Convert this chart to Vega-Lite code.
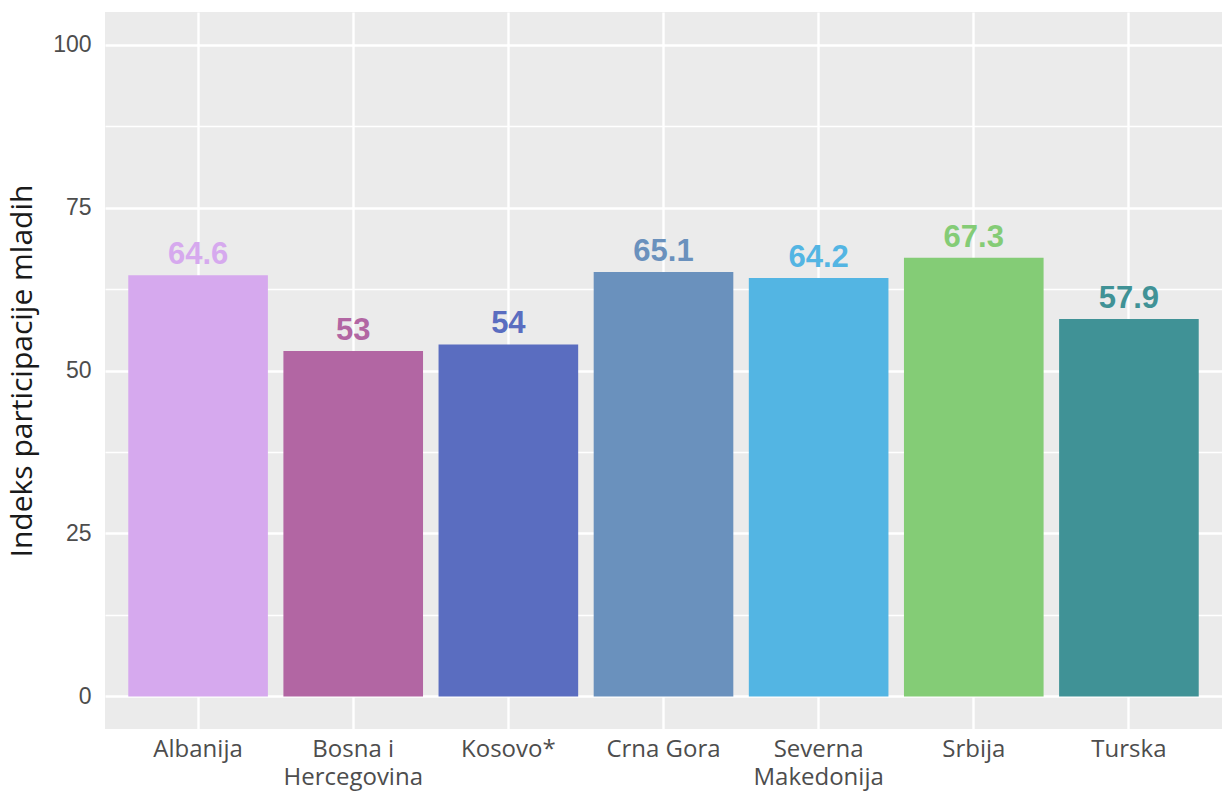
{
  "$schema": "https://vega.github.io/schema/vega-lite/v6.json",
  "width": 1117,
  "height": 717,
  "autosize": {"type": "none"},
  "padding": {"left": 105, "top": 12, "right": 2, "bottom": 73},
  "background": "white",
  "config": {
    "view": {"fill": "#EBEBEB", "stroke": null},
    "font": "Liberation Sans"
  },
  "data": {
    "values": [
      {"zemlja": "Albanija", "indeks": 64.6, "boja": "#D6A9EE"},
      {"zemlja": "Bosna i Hercegovina", "indeks": 53, "boja": "#B266A3"},
      {"zemlja": "Kosovo*", "indeks": 54, "boja": "#5A6DC0"},
      {"zemlja": "Crna Gora", "indeks": 65.1, "boja": "#6A91BD"},
      {"zemlja": "Severna Makedonija", "indeks": 64.2, "boja": "#53B5E3"},
      {"zemlja": "Srbija", "indeks": 67.3, "boja": "#84CC76"},
      {"zemlja": "Turska", "indeks": 57.9, "boja": "#409296"}
    ]
  },
  "encoding": {
    "x": {
      "field": "zemlja",
      "type": "nominal",
      "sort": null,
      "scale": {"paddingInner": 0.1, "paddingOuter": 0.15},
      "axis": {
        "title": null,
        "labelAngle": 0,
        "ticks": false,
        "domain": false,
        "grid": true,
        "bandPosition": 0.5,
        "gridColor": "white",
        "gridWidth": 2.4,
        "labelFont": "Open Sans",
        "labelFontSize": 24,
        "labelColor": "#4D4D4D",
        "labelPadding": 8,
        "labelLineHeight": 28,
        "labelBaseline": "top",
        "labelExpr": "datum.value == 'Bosna i Hercegovina' ? ['Bosna i', 'Hercegovina'] : datum.value == 'Severna Makedonija' ? ['Severna', 'Makedonija'] : datum.value"
      }
    },
    "y": {
      "field": "indeks",
      "type": "quantitative",
      "scale": {"domain": [-5, 105], "nice": false, "zero": false},
      "axis": {
        "title": "Indeks participacije mladih",
        "titleFont": "Open Sans",
        "titleFontSize": 30,
        "titleFontWeight": "normal",
        "titleColor": "#1A1A1A",
        "titlePadding": 15,
        "values": [0, 12.5, 25, 37.5, 50, 62.5, 75, 87.5, 100],
        "labelExpr": "datum.value % 25 == 0 ? datum.label : ''",
        "ticks": false,
        "domain": false,
        "gridColor": "white",
        "gridWidth": {"condition": {"test": "datum.value % 25 == 0", "value": 2.4}, "value": 1.3},
        "labelFont": "Liberation Sans",
        "labelFontSize": 23,
        "labelColor": "#4D4D4D",
        "labelPadding": 14
      }
    }
  },
  "layer": [
    {
      "mark": {"type": "bar", "orient": "vertical"},
      "encoding": {
        "y2": {"datum": 0},
        "color": {"field": "boja", "type": "nominal", "scale": null}
      }
    },
    {
      "mark": {"type": "text", "dy": -11, "baseline": "alphabetic", "fontSize": 31, "fontWeight": "bold", "font": "Liberation Sans"},
      "encoding": {
        "text": {"field": "indeks", "type": "quantitative"},
        "color": {"field": "boja", "type": "nominal", "scale": null}
      }
    }
  ]
}
